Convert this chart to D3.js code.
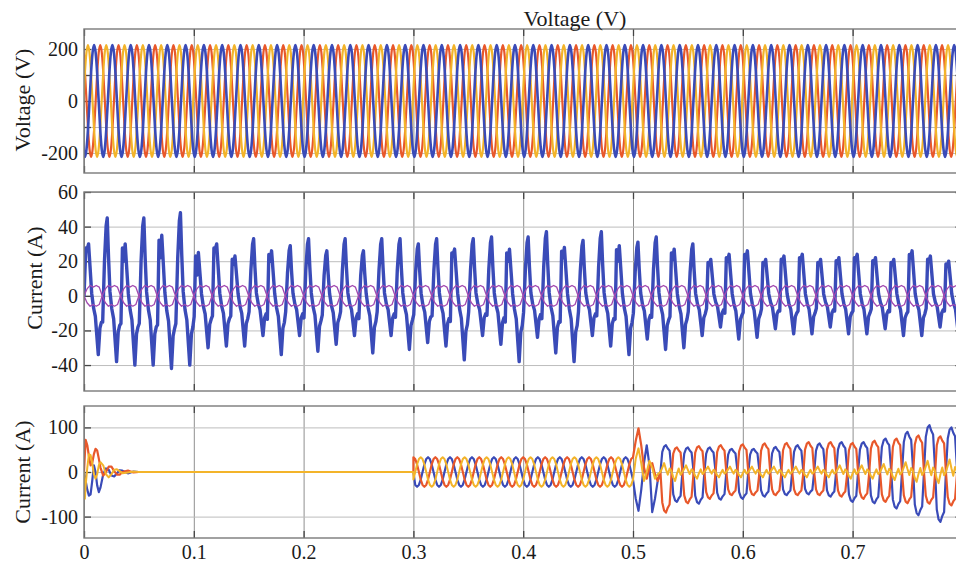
<!DOCTYPE html>
<html>
<head>
<meta charset="utf-8">
<script src="https://cdn.jsdelivr.net/npm/d3@7"></script>
<style>
  body { margin: 0; background: #fff; }
  svg text { font-family: "Liberation Serif", "Times New Roman", "DejaVu Serif", serif; fill: #1a1a1a; }
</style>
</head>
<body>
<svg id="chart" width="956" height="564"></svg>
<script>
// ---------------- time axis ----------------
const xTickValues = [0, 0.1, 0.2, 0.3, 0.4, 0.5, 0.6, 0.7];
const tMax = 0.8;

// ---------------- panel 1: grid voltage (three phases) ----------------
const gridFreq = 60;
const gridVoltageCycle = [0, 108, 186, 215, 186, 108, 0, -108, -186, -215, -186, -108]; // one period, 30° steps
const gridPeakTime = [0.0036, 0.0092, 0.0148];            // first positive peak: phase A, B, C
const voltTicks = [-200, 0, 200];
const voltGrid = [-200, -100, 0, 100, 200];

// ---------------- panel 2: load current ----------------
const loadFreq = 60;
const loadPeak = [30, 45, 30, 45, 35, 48, 25, 30, 23, 33, 26, 29, 33, 26, 33, 26, 33, 33, 30, 33,
                  27, 33, 34, 27, 34, 37, 28, 32, 37, 29, 31, 34, 27, 30, 21, 24, 26, 21, 23, 24,
                  21, 22, 24, 22, 21, 26, 23, 20];
const loadNotch = [27, null, 20, null, 22, null, 12, 27, 18, null, 20, null, null, null, null, null, null, null, null, null,
                   24, null, null, 20, null, null, 22, null, null, 20, null, null, 21, null, 18, 20, 22, 18, 20, 21,
                   18, 19, 21, 19, 18, 22, 20, 17];
const loadTrough = [-34, -38, -40, -40, -42, -40, -30, -29, -29, -23, -34, -23, -32, -28, -23, -33, -23, -31, -27, -29,
                    -37, -23, -28, -38, -24, -33, -38, -23, -29, -34, -25, -31, -30, -23, -18, -25, -24, -19, -22, -22,
                    -18, -22, -22, -19, -23, -23, -18, -22];
const neutralFreq = 30;
const neutralCycle = [0, 4, 6, 5, 6, 5, 0, -4, -6, -5, -6, -5];
const neutralShift = [0, 0.5];                            // two traces, half a period apart
const currTicks = [-40, -20, 0, 20, 40, 60];

// ---------------- panel 3: compensating current ----------------
const startupTime = [0, 0.0008, 0.0015, 0.003, 0.0045, 0.006, 0.0075, 0.009, 0.0105, 0.012, 0.0135, 0.015,
                     0.0175, 0.02, 0.0225, 0.025, 0.0275, 0.03, 0.0325, 0.035, 0.04, 0.045, 0.05, 0.3];
const startupA = [0, -60, -30, 10, 40, 38, 20, -5, -15, -5, 15, 22, 15, -5, -12, -5, 5, 6, 2, -3, -1, 1, 0, 0];
const startupB = [0, -10, -20, -40, -53, -50, -20, 15, 0, -30, -45, -35, -5, 8, 5, -8, -10, -3, 4, 3, -3, 1, 0, 0];
const startupC = [0, 40, 72, 60, 35, 15, 20, 40, 52, 48, 30, 10, -8, 0, 12, 12, 2, -6, -6, 0, 3, -1, 0, 0];

const invFreq = 50;
const invCycle = [0, 17, 29, 33, 29, 17, 0, -17, -29, -33, -29, -17];
const invPeakTime = [0.30667, 0.31333, 0.3];             // phase A, B, C

const faultTime = [0.5, 0.5025, 0.505, 0.5075, 0.51, 0.5125, 0.515, 0.5175, 0.52, 0.5225];
const faultA = [-17, 30, 53, 20, -20, 0, 25, 10, -15, -5];
const faultB = [-17, -60, -87, -40, 20, 60, 15, -90, -60, -20];
const faultC = [33, 70, 98, 60, 10, -15, 10, 20, -5, -20];

const distortStart = 0.525;
const distortCycle = [0, 0.75, 0.95, 1.0, 0.88, 0.8, 0.1, -0.75, -0.95, -1.0, -0.88, -0.8];
const rippleCycle = [0, 0.5, 1, 0.3, -0.3, 0.4, 0.1, -0.6, -1, -0.2, 0.4, -0.3];
const distortBPeak = [60, 55, 55, 52, 52, 56, 60, 64, 67, 67, 75, 90, 105, 100];
const distortBTrough = [-67, -71, -62, -60, -55, -52, -50, -55, -67, -70, -82, -97, -112, -95];
const distortCTrough = [-91, -70, -60, -52, -52, -52, -52, -52, -55, -60, -67, -70, -71, -75];
const distortCPeak = [55, 58, 60, 62, 64, 65, 67, 67, 65, 70, 75, 82, 80, 75];
const distortAAmp = [20, 15, 12, 12, 12, 12, 12, 12, 15, 15, 18, 22, 25, 28];
const compTicks = [-100, 0, 100];

// ---------------- styles ----------------
const colA = "#f3b42a", colB = "#3a4bb8", colC = "#e8582b", colN = "#a24ab0";
const fontFamily = "'Liberation Serif', 'Times New Roman', 'DejaVu Serif', serif";

// ---------------- layout ----------------
const svg = d3.select("#chart");
const x = d3.scaleLinear().domain([0, tMax]).range([84, 84 + 8 * 109.8]);
const xL = x(0), xR = x(tMax);

function periodic(cycle, freq, peakIdxTime, peakIdx, t0, t1, scale) {
  const T = 1 / freq, n = cycle.length, dt = T / n;
  let s = peakIdxTime - peakIdx * dt;
  while (s > t0) s -= T;
  const pts = [];
  for (let k = 0; s + k * T <= t1 + T; k++) {
    for (let i = 0; i < n; i++) {
      const t = s + k * T + i * dt;
      if (t >= t0 - 1e-9 && t <= t1 + 1e-9) pts.push([t, scale ? scale(cycle[i], k) : cycle[i]]);
    }
  }
  return pts;
}

function makePanel(cfg) {
  const y = d3.scaleLinear().domain(cfg.domain).range([cfg.bottom, cfg.top]);
  const g = svg.append("g");
  const h = cfg.bottom - cfg.top;
  const clipId = "clip" + cfg.id;
  g.append("clipPath").attr("id", clipId)
    .append("rect").attr("x", xL).attr("y", cfg.top).attr("width", xR - xL).attr("height", h);

  // vertical grid
  g.append("g").attr("transform", `translate(0,${cfg.bottom})`)
    .call(d3.axisBottom(x).tickValues(xTickValues).tickSize(-h).tickFormat(""))
    .call(a => a.select(".domain").remove())
    .call(a => a.selectAll("line").attr("stroke", "#8f8f8f").attr("stroke-width", 1));
  // horizontal grid
  g.append("g").attr("transform", `translate(${xL},0)`)
    .call(d3.axisLeft(y).tickValues(cfg.grid).tickSize(-(xR - xL)).tickFormat(""))
    .call(a => a.select(".domain").remove())
    .call(a => a.selectAll("line").attr("stroke", "#bdbdbd").attr("stroke-width", 1));

  // inward tick marks
  g.append("g").attr("transform", `translate(${xL},0)`)
    .call(d3.axisLeft(y).tickValues(cfg.grid).tickSize(-7).tickFormat(""))
    .call(a => a.select(".domain").remove())
    .call(a => a.selectAll("line").attr("stroke", "#444").attr("stroke-width", 1.3));
  g.append("g").attr("transform", `translate(${xR},0)`)
    .call(d3.axisRight(y).tickValues(cfg.grid).tickSize(-7).tickFormat(""))
    .call(a => a.select(".domain").remove())
    .call(a => a.selectAll("line").attr("stroke", "#444").attr("stroke-width", 1.3));
  g.append("g").attr("transform", `translate(0,${cfg.bottom})`)
    .call(d3.axisBottom(x).tickValues(xTickValues).tickSize(-7).tickFormat(""))
    .call(a => a.select(".domain").remove())
    .call(a => a.selectAll("line").attr("stroke", "#444").attr("stroke-width", 1.3));
  g.append("g").attr("transform", `translate(0,${cfg.top})`)
    .call(d3.axisTop(x).tickValues(xTickValues).tickSize(-7).tickFormat(""))
    .call(a => a.select(".domain").remove())
    .call(a => a.selectAll("line").attr("stroke", "#444").attr("stroke-width", 1.3));

  // series
  const plot = g.append("g").attr("clip-path", `url(#${clipId})`);
  cfg.series.forEach(s => {
    plot.append("path").datum(s.points)
      .attr("fill", "none").attr("stroke", s.color).attr("stroke-width", s.width)
      .attr("stroke-linejoin", "round").attr("stroke-linecap", "round")
      .attr("d", d3.line().x(d => x(d[0])).y(d => y(d[1])).curve(s.curve || d3.curveLinear));
  });

  // frame
  g.append("rect").attr("x", xL).attr("y", cfg.top).attr("width", xR - xL).attr("height", h)
    .attr("fill", "none").attr("stroke", "#7a7a7a").attr("stroke-width", 1.4);

  // y tick labels
  g.append("g").attr("transform", `translate(${xL},0)`)
    .call(d3.axisLeft(y).tickValues(cfg.ticks).tickSize(0).tickPadding(cfg.pad).tickFormat(d => String(d)))
    .call(a => a.select(".domain").remove())
    .call(a => a.attr("font-family", fontFamily))
    .call(a => a.selectAll("text").attr("font-size", 20).attr("fill", "#1a1a1a")
      .style("font-family", fontFamily));

  // y axis title
  g.append("text").attr("transform", `translate(${cfg.labelX},${cfg.labelY}) rotate(-90)`)
    .attr("text-anchor", "middle").attr("dominant-baseline", "central")
    .attr("font-size", 22).style("font-family", fontFamily).text(cfg.label);
  return { g, y };
}

// ----- panel 1 series -----
const voltSeries = [
  { idx: 2, color: colC }, { idx: 0, color: colA }, { idx: 1, color: colB }
].map(p => ({
  color: p.color, width: p.idx === 1 ? 2.6 : 2.2, curve: d3.curveNatural,
  points: periodic(gridVoltageCycle, gridFreq, gridPeakTime[p.idx], 3, -0.02, tMax + 0.02)
}));

makePanel({
  id: 1, top: 29, bottom: 173, domain: [-277, 277], grid: voltGrid, ticks: voltTicks, pad: 6,
  label: "Voltage (V)", labelX: 22, labelY: 100, series: voltSeries
});

// ----- panel 2 series -----
function loadCurrentPoints() {
  const T = 1 / loadFreq, pts = [[0, 0]];
  loadPeak.forEach((pk, k) => {
    const tr = loadTrough[k], nt = loadNotch[k], s = k * T, m = nt !== null;
    const rise = m
      ? [[0.10, 0.92 * pk], [0.17, nt], [0.25, pk]]
      : [[0.12, 0.45 * pk], [0.21, 0.9 * pk], [0.27, pk]];
    const shape = [[0.02, 0.4 * tr], ...rise, [0.34, 0.5 * pk], [0.42, 0.05 * pk], [0.52, 0.2 * tr],
                   [0.62, 0.35 * tr], [0.78, tr], [0.87, 0.55 * tr], [0.95, 0.45 * tr]];
    shape.forEach(([f, v]) => { if (k > 0 || f > 0.05) pts.push([s + f * T, v]); });
  });
  return pts;
}
const neutralSeries = neutralShift.map(sh => ({
  color: colN, width: 1.3,
  points: periodic(neutralCycle, neutralFreq, sh / neutralFreq + 3 / (12 * neutralFreq), 3, 0, tMax)
}));

makePanel({
  id: 2, top: 192, bottom: 391, domain: [-55, 60], grid: currTicks, ticks: currTicks, pad: 6,
  label: "Current (A)", labelX: 34, labelY: 278,
  series: [{ color: colB, width: 3.4, points: loadCurrentPoints() }, ...neutralSeries]
});

// ----- panel 3 series -----
function compPoints(startV, invIdx, faultV, distortFn) {
  const pts = startupTime.map((t, i) => [t, startV[i]]);
  pts.push(...periodic(invCycle, invFreq, invPeakTime[invIdx], 3, 0.3, 0.499));
  pts.push(...faultTime.map((t, i) => [t, faultV[i]]));
  const T = 1 / invFreq, dt = T / 12;
  distortBPeak.forEach((_, j) => {
    for (let i = 0; i < 12; i++) {
      pts.push([distortStart + j * T + i * dt, distortFn(distortCycle[i], rippleCycle[i], j)]);
    }
  });
  pts.push([distortStart + distortBPeak.length * T, 0]);
  return pts;
}
const compB = compPoints(startupB, 1, faultB, (v, r, j) => v >= 0 ? v * distortBPeak[j] : -v * distortBTrough[j]);
const compC = compPoints(startupC, 2, faultC, (v, r, j) => v >= 0 ? v * distortCTrough[j] : -v * distortCPeak[j]);
const compA = compPoints(startupA, 0, faultA, (v, r, j) => r * distortAAmp[j]);

makePanel({
  id: 3, top: 406, bottom: 538, domain: [-148, 148], grid: compTicks, ticks: compTicks, pad: 6,
  label: "Current (A)", labelX: 22, labelY: 472,
  series: [
    { color: colB, width: 2.2, points: compB },
    { color: colC, width: 2.2, points: compC },
    { color: colA, width: 2.0, points: compA }
  ]
});

// x tick labels
svg.append("g").attr("transform", `translate(0,538)`)
  .call(d3.axisBottom(x).tickValues(xTickValues).tickSize(0).tickPadding(7)
    .tickFormat(d => d === 0 ? "0" : d.toFixed(1)))
  .call(a => a.select(".domain").remove())
  .call(a => a.attr("font-family", fontFamily))
  .call(a => a.selectAll("text").attr("font-size", 20).attr("fill", "#1a1a1a")
    .style("font-family", fontFamily));

// panel title
svg.append("text").attr("x", 575).attr("y", 18).attr("text-anchor", "middle")
  .attr("dominant-baseline", "central").attr("font-size", 22).style("font-family", fontFamily)
  .text("Voltage (V)");
</script>
</body>
</html>
